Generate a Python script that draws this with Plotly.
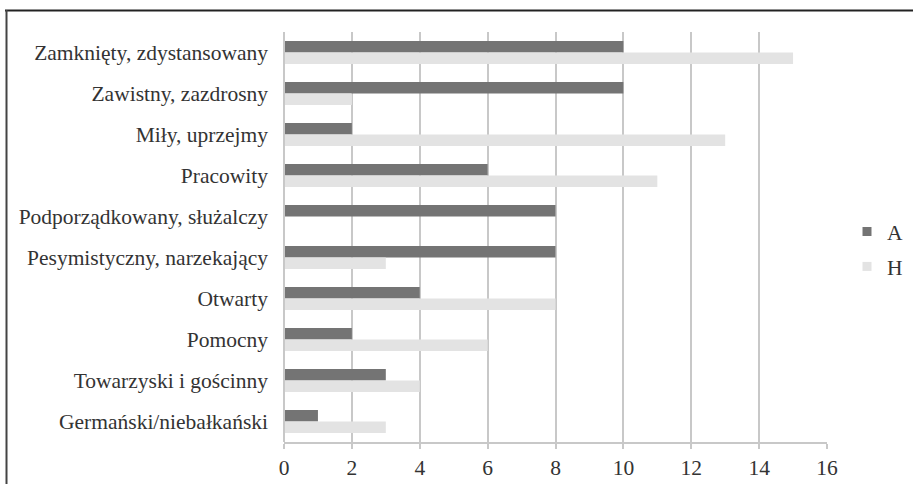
import plotly.graph_objects as go

categories = [
    "Zamknięty, zdystansowany",
    "Zawistny, zazdrosny",
    "Miły, uprzejmy",
    "Pracowity",
    "Podporządkowany, służalczy",
    "Pesymistyczny, narzekający",
    "Otwarty",
    "Pomocny",
    "Towarzyski i gościnny",
    "Germański/niebałkański",
]
values_A = [10, 10, 2, 6, 8, 8, 4, 2, 3, 1]
values_H = [15, 2, 13, 11, 0, 3, 8, 6, 4, 3]
x_ticks = [0, 2, 4, 6, 8, 10, 12, 14, 16]
series_names = ["A", "H"]
series_colors = ["#747474", "#e3e3e3"]

FONT = "Liberation Serif, Times New Roman, serif"
FS = 21.5
TXT = "#333333"
W, H = 913, 484
L, R, T, B = 284, 0, 32, 42
PLOT_W = 543
pw, ph = W - L - R, H - T - B

fig = go.Figure()
for name, vals, col in zip(series_names, [values_A, values_H], series_colors):
    fig.add_trace(go.Bar(y=categories, x=vals, name=name, orientation="h",
                         marker=dict(color=col, line=dict(width=0)),
                         showlegend=False))
# legend entries with small square markers
for name, col in zip(series_names, series_colors):
    fig.add_trace(go.Scatter(x=[None], y=[None], mode="markers", name=name,
                             marker=dict(symbol="square", size=9, color=col),
                             legendgroup=name, showlegend=True,
                             hoverinfo="skip"))

def px_x(p):
    return (p - L) / pw

def px_y(p):
    return (H - B - p) / ph

fig.update_layout(
    width=W, height=H,
    margin=dict(l=L, r=R, t=T, b=B, autoexpand=False),
    paper_bgcolor="white", plot_bgcolor="white",
    barmode="group", bargap=0.44, bargroupgap=0.0,
    font=dict(family=FONT, size=FS, color=TXT),
    showlegend=True,
    legend=dict(x=px_x(847), y=px_y(211), xanchor="left", yanchor="top",
                traceorder="grouped", tracegroupgap=4,
                font=dict(family=FONT, size=FS, color=TXT),
                itemwidth=30, bgcolor="rgba(0,0,0,0)"),
    xaxis=dict(domain=[0, PLOT_W / pw], range=[0, 16], tickvals=x_ticks,
               ticktext=[str(v) for v in x_ticks],
               showgrid=True, gridcolor="#c8c8c8", gridwidth=2,
               zeroline=False, showline=True, linecolor="#c8c8c8", linewidth=2,
               ticks="outside", ticklen=5, tickwidth=2, tickcolor="#c8c8c8",
               tickfont=dict(family=FONT, size=FS, color=TXT),
               fixedrange=True),
    yaxis=dict(autorange="reversed", showgrid=False, zeroline=False,
               showline=False, ticks="", ticklabelstandoff=15,
               tickfont=dict(family=FONT, size=FS, color=TXT),
               fixedrange=True),
    shapes=[
        dict(type="line", xref="paper", yref="paper",
             x0=px_x(5), x1=px_x(W + 5), y0=px_y(10.5), y1=px_y(10.5),
             line=dict(color="#222222", width=2)),
        dict(type="line", xref="paper", yref="paper",
             x0=px_x(6.5), x1=px_x(6.5), y0=px_y(10), y1=px_y(H + 5),
             line=dict(color="#444444", width=2)),
        dict(type="line", xref="paper", yref="paper",
             x0=0, x1=0, y0=0, y1=px_y(T),
             line=dict(color="#c8c8c8", width=2)),
    ],
)

fig.write_html("out.html", config={"displayModeBar": False},
               post_script="document.body.style.margin='0';document.body.style.overflow='hidden';")
